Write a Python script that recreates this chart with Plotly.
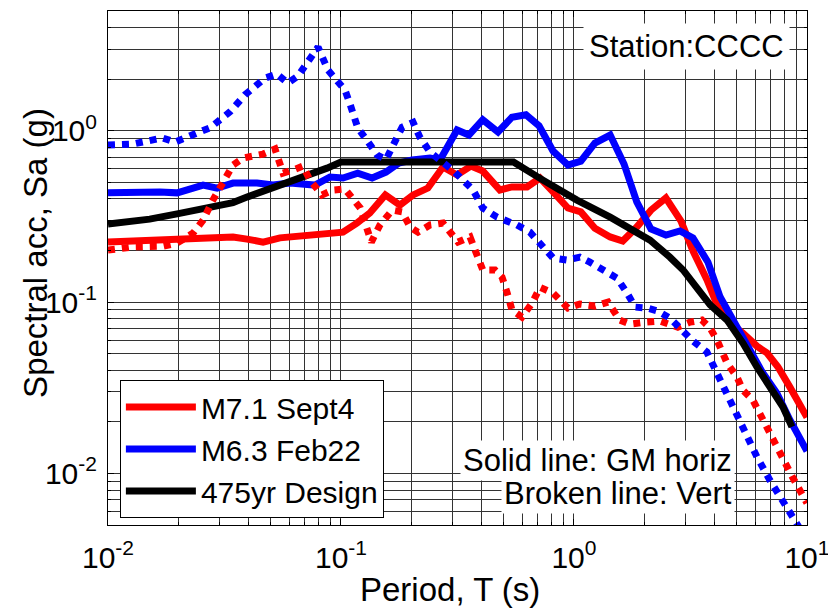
import plotly.graph_objects as go

# ---------------- data ----------------
# M7.1 Sept4 - geometric mean horizontal (solid)
T_m71_h = [0.01, 0.0128, 0.0179, 0.0204, 0.0266, 0.0344, 0.0395, 0.0463, 0.0547, 0.0667,
           0.0813, 0.102, 0.117, 0.133, 0.155, 0.179, 0.204, 0.236, 0.274, 0.315,
           0.361, 0.406, 0.481, 0.542, 0.629, 0.715, 0.821, 0.942, 1.07, 1.23,
           1.43, 1.62, 1.86, 2.14, 2.48, 2.88, 3.24, 3.72, 4.15, 4.67,
           5.31, 6.10, 6.73, 7.51, 8.45, 9.33, 10.0]
Sa_m71_h = [0.224, 0.227, 0.230, 0.233, 0.240, 0.240, 0.233, 0.224, 0.237, 0.243,
            0.246, 0.256, 0.289, 0.331, 0.422, 0.368, 0.422, 0.463, 0.614, 0.552,
            0.622, 0.582, 0.451, 0.470, 0.470, 0.530, 0.434, 0.354, 0.336, 0.270,
            0.240, 0.227, 0.274, 0.344, 0.405, 0.297, 0.199, 0.135, 0.0935, 0.0755,
            0.0659, 0.0553, 0.0505, 0.0418, 0.0319, 0.0258, 0.0213]

# M7.1 Sept4 - vertical (broken)
T_m71_v = [0.01, 0.0128, 0.0172, 0.0198, 0.0232, 0.0256, 0.0282, 0.0309, 0.0344, 0.0380,
           0.0463, 0.0521, 0.0564, 0.0622, 0.0687, 0.0736, 0.0829, 0.0925, 0.104, 0.121,
           0.135, 0.147, 0.166, 0.183, 0.198, 0.214, 0.241, 0.274, 0.299, 0.318,
           0.358, 0.384, 0.406, 0.458, 0.491, 0.515, 0.542, 0.598, 0.661, 0.715,
           0.813, 0.942, 1.06, 1.23, 1.40, 1.57, 1.74, 2.02, 2.34, 2.79,
           3.15, 3.54, 3.84, 4.11, 4.54, 5.01, 5.31, 5.86, 6.47, 7.15,
           7.89, 8.71, 10.0]
Sa_m71_v = [0.201, 0.210, 0.212, 0.221, 0.253, 0.301, 0.394, 0.482, 0.631, 0.693,
            0.731, 0.782, 0.566, 0.590, 0.622, 0.515, 0.422, 0.451, 0.457, 0.354,
            0.224, 0.282, 0.344, 0.336, 0.274, 0.256, 0.282, 0.289, 0.253, 0.224,
            0.240, 0.188, 0.154, 0.154, 0.140, 0.115, 0.0899, 0.0818, 0.0986, 0.122,
            0.113, 0.0923, 0.0975, 0.0948, 0.100, 0.0785, 0.0744, 0.0764, 0.0775, 0.0714,
            0.0764, 0.0785, 0.0705, 0.0600, 0.0441, 0.0365, 0.0306, 0.0268, 0.0205, 0.0163,
            0.0125, 0.0094, 0.00671]

# M6.3 Feb22 - geometric mean horizontal (solid)
T_m63_h = [0.01, 0.0128, 0.0167, 0.0198, 0.0225, 0.0256, 0.0294, 0.0344, 0.0436, 0.0511,
           0.0604, 0.0773, 0.0897, 0.102, 0.118, 0.136, 0.156, 0.177, 0.202, 0.241,
           0.266, 0.294, 0.315, 0.354, 0.406, 0.472, 0.542, 0.622, 0.708, 0.813,
           0.942, 1.07, 1.23, 1.43, 1.64, 1.86, 2.14, 2.48, 2.85, 3.24,
           3.76, 4.24, 5.01, 5.69, 6.47, 7.43, 8.45, 10.0]
Sa_m63_h = [0.434, 0.439, 0.439, 0.434, 0.457, 0.482, 0.463, 0.495, 0.495, 0.482,
            0.495, 0.482, 0.537, 0.530, 0.566, 0.530, 0.574, 0.648, 0.675, 0.693,
            0.675, 0.883, 1.01, 0.944, 1.16, 0.984, 1.20, 1.24, 1.07, 0.762,
            0.631, 0.665, 0.848, 0.944, 0.640, 0.384, 0.267, 0.246, 0.260, 0.237,
            0.171, 0.107, 0.0697, 0.0525, 0.0385, 0.0294, 0.0205, 0.0135]

# M6.3 Feb22 - vertical (broken)
T_m63_v = [0.01, 0.0128, 0.0171, 0.0194, 0.0241, 0.0274, 0.0303, 0.0334, 0.0387, 0.0428,
           0.0472, 0.0531, 0.0592, 0.0654, 0.070, 0.0797, 0.0879, 0.0961, 0.104, 0.109,
           0.118, 0.129, 0.143, 0.156, 0.169, 0.183, 0.204, 0.218, 0.241, 0.266,
           0.308, 0.369, 0.406, 0.468, 0.569, 0.647, 0.736, 0.813, 0.933, 1.06,
           1.17, 1.33, 1.53, 1.69, 1.83, 2.06, 2.29, 2.58, 2.91, 3.24,
           3.72, 4.11, 4.54, 5.01, 5.52, 6.10, 6.93, 7.66, 8.45, 9.33, 10.0]
Sa_m63_v = [0.826, 0.837, 0.908, 0.859, 0.970, 1.04, 1.16, 1.29, 1.62, 1.82,
            2.03, 2.14, 1.90, 2.09, 2.36, 3.08, 2.26, 1.98, 1.73, 1.45,
            1.04, 0.883, 0.722, 0.679, 0.826, 1.05, 1.12, 0.918, 0.751, 0.679,
            0.574, 0.451, 0.354, 0.313, 0.282, 0.256, 0.210, 0.181, 0.176, 0.183,
            0.171, 0.154, 0.138, 0.113, 0.0935, 0.0923, 0.0887, 0.0807, 0.0687, 0.0593,
            0.0511, 0.0385, 0.0286, 0.0213, 0.0163, 0.0125, 0.00914, 0.00728, 0.00586, 0.00485, 0.00408]

# 475-year design spectrum
T_design = [0.01, 0.0128, 0.0151, 0.0198, 0.0241, 0.0282, 0.0344, 0.0395, 0.0481, 0.0586,
            0.0715, 0.0871, 0.1, 0.55, 0.736, 1.03, 1.43, 1.74, 2.12, 2.58,
            2.94, 3.37, 3.84, 4.54, 5.31, 6.10, 6.93, 7.89, 8.62]
Sa_design = [0.286, 0.297, 0.305, 0.327, 0.344, 0.364, 0.381, 0.410, 0.451, 0.495,
             0.537, 0.605, 0.657, 0.657, 0.515, 0.394, 0.313, 0.270, 0.230, 0.183,
             0.154, 0.121, 0.0962, 0.0785, 0.0577, 0.0418, 0.0319, 0.0244, 0.0187]

x_tickvals = [0.01, 0.1, 1, 10]
x_ticktext = ["10<sup>-2</sup>", "10<sup>-1</sup>", "10<sup>0</sup>", "10<sup>1</sup>"]
y_tickvals = [0.01, 0.1, 1]
y_ticktext = ["10<sup>-2</sup>", "10<sup>-1</sup>", "10<sup>0</sup>"]

# ---------------- figure ----------------
FONT = "Arial, 'Liberation Sans', sans-serif"
FS = 30
FS_TITLE = 33
RED, BLUE, BLACK = "#ff0000", "#0000ff", "#000000"
LW = 7

fig = go.Figure()
fig.add_trace(go.Scatter(x=T_m71_h, y=Sa_m71_h, mode="lines", name="M7.1 Sept4",
                         line=dict(color=RED, width=LW)))
fig.add_trace(go.Scatter(x=T_m63_h, y=Sa_m63_h, mode="lines", name="M6.3 Feb22",
                         line=dict(color=BLUE, width=LW)))
fig.add_trace(go.Scatter(x=T_design, y=Sa_design, mode="lines", name="475yr Design",
                         line=dict(color=BLACK, width=LW)))
fig.add_trace(go.Scatter(x=T_m71_v, y=Sa_m71_v, mode="lines", showlegend=False,
                         line=dict(color=RED, width=LW, dash="dot")))
fig.add_trace(go.Scatter(x=T_m63_v, y=Sa_m63_v, mode="lines", showlegend=False,
                         line=dict(color=BLUE, width=LW, dash="dot")))

GRID = "#333333"
axis_common = dict(
    type="log", showline=True, linecolor="black", linewidth=1, mirror="allticks",
    showgrid=True, gridcolor=GRID, gridwidth=1, zeroline=False, automargin=False,
    ticks="inside", ticklen=6, tickcolor="black", ticklabeloverflow="allow",
    tickfont=dict(family=FONT, size=FS, color="black"),
    minor=dict(dtick="D1", showgrid=True, gridcolor=GRID, gridwidth=1,
               ticks="inside", ticklen=3, tickcolor="black"),
)

fig.update_xaxes(range=[-2, 1.0002], tickmode="array", tickvals=x_tickvals, ticktext=x_ticktext,
                 ticklabelstandoff=6, **axis_common)
fig.update_yaxes(range=[-2.30103, 0.69897], tickmode="array", tickvals=y_tickvals,
                 ticktext=y_ticktext, ticklabelstandoff=4, **axis_common)

fig.update_layout(
    width=828, height=610,
    margin=dict(l=108, r=21, t=11, b=85, autoexpand=False),
    paper_bgcolor="white", plot_bgcolor="white",
    font=dict(family=FONT, size=FS, color="black"),
    showlegend=True,
    legend=dict(x=0.017, y=0.0136, xanchor="left", yanchor="bottom",
                bgcolor="white", bordercolor="black", borderwidth=1,
                font=dict(family=FONT, size=FS, color="black"),
                itemwidth=70, tracegroupgap=0, traceorder="normal"),
    annotations=[
        dict(text="Period, T (s)", xref="paper", yref="paper", x=0.489, y=-0.126,
             xanchor="center", yanchor="middle", showarrow=False,
             font=dict(family=FONT, size=FS_TITLE)),
        dict(text="Spectral acc, Sa (g)", xref="paper", yref="paper", x=-0.104, y=0.53,
             xanchor="center", yanchor="middle", textangle=-90, showarrow=False,
             font=dict(family=FONT, size=FS_TITLE)),
        dict(text="Station:CCCC", xref="paper", yref="paper", x=0.827, y=0.93,
             xanchor="center", yanchor="middle", showarrow=False, bgcolor="white",
             borderpad=5, font=dict(family=FONT, size=31)),
        dict(text="Solid line: GM horiz", xref="paper", yref="paper", x=0.897, y=0.126,
             xanchor="right", yanchor="middle", showarrow=False, bgcolor="white",
             borderpad=2, font=dict(family=FONT, size=31)),
        dict(text="Broken line: Vert", xref="paper", yref="paper", x=0.897, y=0.062,
             xanchor="right", yanchor="middle", showarrow=False, bgcolor="white",
             borderpad=2, font=dict(family=FONT, size=31)),
    ],
)

fig.write_html("out.html")
